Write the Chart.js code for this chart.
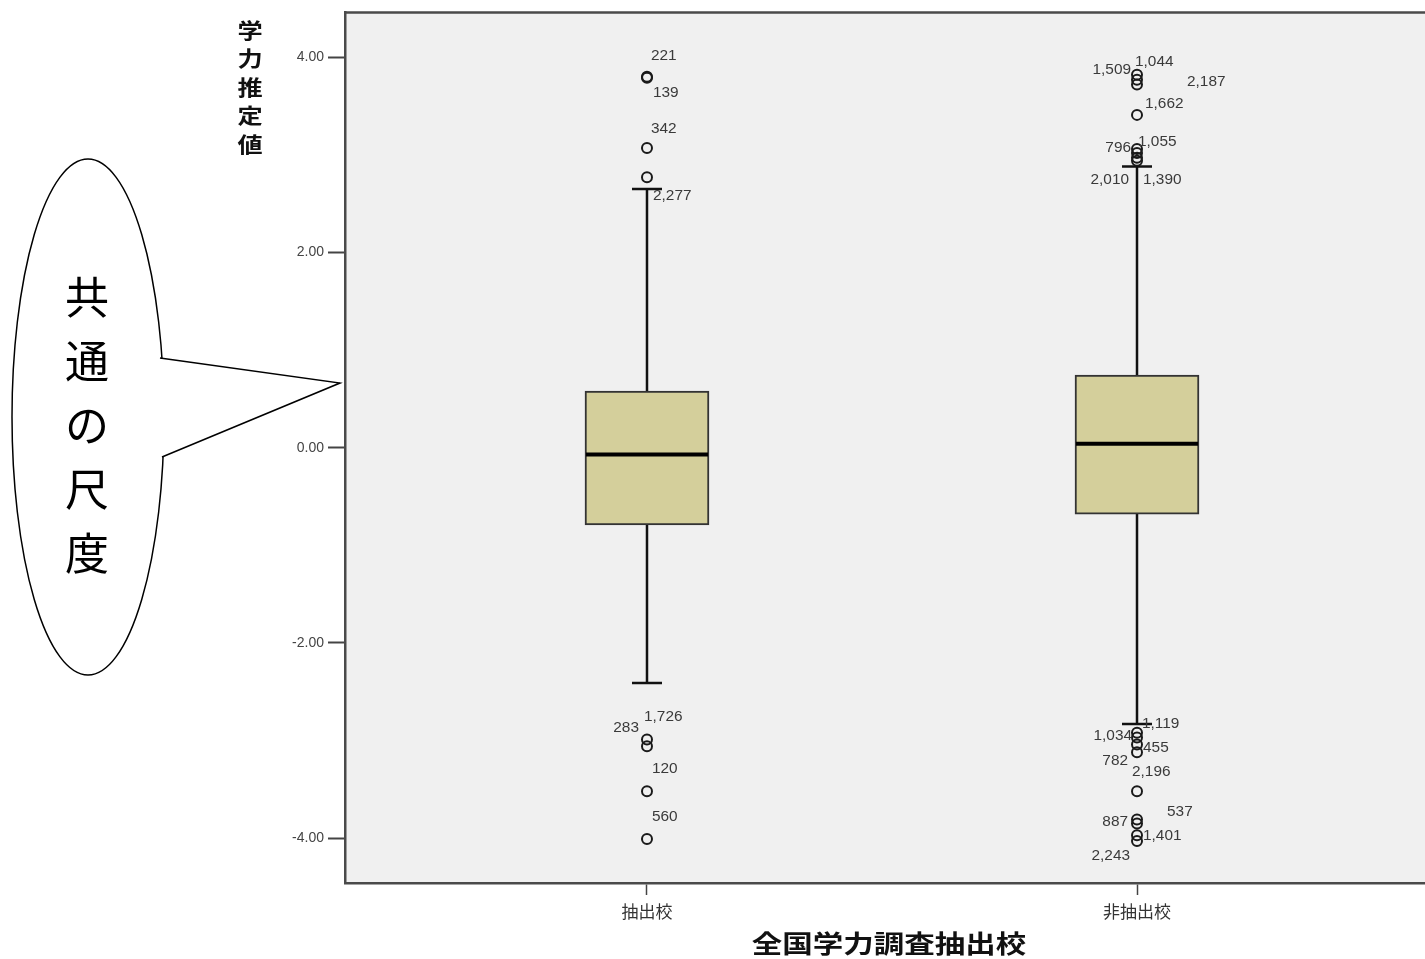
<!DOCTYPE html>
<html>
<head>
<meta charset="utf-8">
<script src="https://cdn.jsdelivr.net/npm/chart.js@4"></script>
<style>
  html, body { margin: 0; padding: 0; background: #fff; overflow: hidden; }
  #wrap { position: absolute; left: 0; top: 0; width: 1460px; height: 959px; }
</style>
</head>
<body>
<div id="wrap"><canvas id="boxChart" width="1460" height="959"></canvas></div>
<script>
// Categories and box statistics
var categories = ['抽出校', '非抽出校'];
var whiskerLow = [-2.41, -2.83];
var q1 = [-0.79, -0.68];
var median = [-0.07, 0.04];
var q3 = [0.58, 0.745];
var whiskerHigh = [2.65, 2.88];
var yTicks = [-4, -2, 0, 2, 4];

// Outliers per group: values and case labels
var outlierValues1 = [3.80, 3.79, 3.07, 2.77, -2.99, -3.06, -3.52, -4.01];
var outlierIds1 = ['221', '139', '342', '2,277', '283', '1,726', '120', '560'];
var outlierValues2 = [3.82, 3.77, 3.72, 3.41, 3.06, 3.02, 2.97, 2.94,
                      -2.92, -2.97, -3.04, -3.12, -3.52, -3.81, -3.85, -3.97, -4.03];
var outlierIds2 = ['1,509', '1,044', '2,187', '1,662', '796', '1,055', '2,010', '1,390',
                   '1,119', '1,034', '455', '782', '2,196', '887', '537', '1,401', '2,243'];

// label placement (pixels from the point: dx, dy, align)
var labelPos1 = [[4, -21, 'left'], [6, 15, 'left'], [4, -19, 'left'], [6, 19, 'left'],
                 [-8, -11, 'right'], [-3, -29, 'left'], [5, -22, 'left'], [5, -22, 'left']];
var labelPos2 = [[-6, -5, 'right'], [-2, -18, 'left'], [50, -2, 'left'], [8, -11, 'left'],
                 [-6, -1, 'right'], [1, -11, 'left'], [-8, 22, 'right'], [6, 19, 'left'],
                 [5, -9, 'left'], [-5, -1, 'right'], [6, 4, 'left'], [-9, 9, 'right'],
                 [-5, -19, 'left'], [-9, 3, 'right'], [30, -11, 'left'], [6, 1, 'left'], [-7, 15, 'right']];

var boxPx = 124;
var capHalf = 15;

function points(values, groupX) {
    var out = [];
    for (var i = 0; i < values.length; i++) out.push({ x: groupX, y: values[i] });
    return out;
}

var boxData = [];
for (var i = 0; i < categories.length; i++) {
    boxData.push({ x: i + 1, y: [q1[i], q3[i]] });
}

function stretchText(ctx, text, x, y, sx) {
    ctx.save();
    ctx.translate(x, y);
    ctx.scale(sx, 1);
    ctx.fillText(text, 0, 0);
    ctx.restore();
}

// plot background, whiskers, callout bubble
var decor = {
    id: 'decor',
    beforeDatasetsDraw: function (chart) {
        var ctx = chart.ctx, a = chart.chartArea;
        var xs = chart.scales.x, ys = chart.scales.y;
        ctx.save();
        ctx.strokeStyle = '#111';
        ctx.lineWidth = 2.5;
        for (var i = 0; i < categories.length; i++) {
            var cx = xs.getPixelForValue(i + 1);
            ctx.beginPath();
            ctx.moveTo(cx, ys.getPixelForValue(q3[i]));
            ctx.lineTo(cx, ys.getPixelForValue(whiskerHigh[i]));
            ctx.moveTo(cx, ys.getPixelForValue(q1[i]));
            ctx.lineTo(cx, ys.getPixelForValue(whiskerLow[i]));
            ctx.moveTo(cx - capHalf, ys.getPixelForValue(whiskerHigh[i]));
            ctx.lineTo(cx + capHalf, ys.getPixelForValue(whiskerHigh[i]));
            ctx.moveTo(cx - capHalf, ys.getPixelForValue(whiskerLow[i]));
            ctx.lineTo(cx + capHalf, ys.getPixelForValue(whiskerLow[i]));
            ctx.stroke();
        }
        ctx.restore();
    },
    beforeDraw: function (chart) {
        var ctx = chart.ctx, a = chart.chartArea;
        ctx.save();
        ctx.fillStyle = '#f0f0f0';
        ctx.fillRect(a.left, a.top, a.right - a.left, a.bottom - a.top);
        ctx.restore();
    },
    afterDatasetsDraw: function (chart) {
        var ctx = chart.ctx, a = chart.chartArea;
        var xs = chart.scales.x, ys = chart.scales.y;
        ctx.save();
        // median lines
        ctx.strokeStyle = '#000';
        ctx.lineWidth = 4;
        for (var i = 0; i < categories.length; i++) {
            var cx = xs.getPixelForValue(i + 1);
            var my = ys.getPixelForValue(median[i]);
            ctx.beginPath();
            ctx.moveTo(cx - boxPx / 2 + 1, my);
            ctx.lineTo(cx + boxPx / 2 - 1, my);
            ctx.stroke();
        }
        // outlier labels
        ctx.fillStyle = '#3a3a3a';
        ctx.font = '14px "Liberation Sans", Arial, sans-serif';
        ctx.textBaseline = 'middle';
        var groups = [[outlierValues1, outlierIds1, labelPos1], [outlierValues2, outlierIds2, labelPos2]];
        for (var g = 0; g < groups.length; g++) {
            var gx = xs.getPixelForValue(g + 1);
            for (var k = 0; k < groups[g][0].length; k++) {
                var py = ys.getPixelForValue(groups[g][0][k]);
                var p = groups[g][2][k];
                ctx.textAlign = p[2];
                stretchText(ctx, groups[g][1][k], gx + p[0], py + p[1], 1.1);
            }
        }
        // top frame line
        ctx.strokeStyle = '#4a4a4a';
        ctx.lineWidth = 2.5;
        ctx.beginPath();
        ctx.moveTo(a.left - 1, a.top);
        ctx.lineTo(a.right + 10, a.top);
        ctx.stroke();
        ctx.restore();
    },
    afterDraw: function (chart) {
        var ctx = chart.ctx, a = chart.chartArea;
        ctx.save();
        // axis titles
        ctx.fillStyle = '#111';
        ctx.textAlign = 'center';
        ctx.textBaseline = 'middle';
        ctx.font = 'bold 21px "Noto Sans CJK JP", sans-serif';
        var yTitle = '学力推定値';
        for (var i = 0; i < yTitle.length; i++) {
            stretchText(ctx, yTitle.charAt(i), 250, 30 + i * 28.5, 1.2);
        }
        ctx.font = 'bold 25px "Noto Sans CJK JP", sans-serif';
        stretchText(ctx, '全国学力調査抽出校', 889, 943, 1.22);

        // callout bubble
        ctx.fillStyle = '#fff';
        ctx.strokeStyle = '#000';
        ctx.lineWidth = 1.5;
        ctx.beginPath();
        ctx.ellipse(88, 417, 76, 258, 0, 0, Math.PI * 2);
        ctx.fill();
        ctx.stroke();
        ctx.beginPath();
        ctx.moveTo(160, 358);
        ctx.lineTo(340, 383);
        ctx.lineTo(162, 457);
        ctx.lineTo(140, 407);
        ctx.closePath();
        ctx.fill();
        ctx.beginPath();
        ctx.moveTo(160, 358);
        ctx.lineTo(340, 383);
        ctx.lineTo(162, 457);
        ctx.stroke();
        ctx.fillStyle = '#000';
        ctx.font = '44px "Noto Sans CJK JP", sans-serif';
        var note = '共通の尺度';
        for (var j = 0; j < note.length; j++) {
            ctx.fillText(note.charAt(j), 87, 297 + j * 64);
        }
        ctx.restore();
    }
};

var ctx = document.getElementById('boxChart').getContext('2d');
var boxChart = new Chart(ctx, {
    type: 'bar',
    data: {
        datasets: [
            {
                type: 'scatter',
                data: points(outlierValues1, 1),
                pointRadius: 5,
                pointBorderWidth: 2,
                pointBorderColor: '#1a1a1a',
                pointBackgroundColor: 'rgba(0,0,0,0)',
                order: 0
            },
            {
                type: 'scatter',
                data: points(outlierValues2, 2),
                pointRadius: 5,
                pointBorderWidth: 2,
                pointBorderColor: '#1a1a1a',
                pointBackgroundColor: 'rgba(0,0,0,0)',
                order: 0
            },
            {
                type: 'bar',
                data: boxData,
                backgroundColor: '#d4cf9b',
                borderColor: '#333',
                borderWidth: 2,
                borderSkipped: false,
                barThickness: boxPx,
                order: 1
            }
        ]
    },
    options: {
        responsive: false,
        animation: false,
        layout: { padding: { top: 10, right: 21, left: 0, bottom: 0 } },
        plugins: { legend: { display: false }, tooltip: { enabled: false } },
        scales: {
            x: {
                type: 'linear',
                offset: false,
                min: 0.3837,
                max: 2.6163,
                afterBuildTicks: function (scale) {
                    scale.ticks = [{ value: 1 }, { value: 2 }];
                },
                afterFit: function (scale) { scale.height = 76; },
                grid: { offset: false, drawOnChartArea: false, tickLength: 12, tickWidth: 1.5, tickColor: '#444' },
                border: { display: true, color: '#4a4a4a', width: 2.5 },
                ticks: {
                    padding: 6,
                    color: '#333',
                    font: { family: '"Noto Sans CJK JP", sans-serif', size: 17 },
                    callback: function (v) { return categories[v - 1]; }
                }
            },
            y: {
                type: 'linear',
                min: -4.46,
                max: 4.46,
                afterBuildTicks: function (scale) {
                    scale.ticks = yTicks.map(function (v) { return { value: v }; });
                },
                afterFit: function (scale) { scale.width = 345; },
                grid: { drawOnChartArea: false, tickLength: 17, tickWidth: 2, tickColor: '#444' },
                border: { display: true, color: '#4a4a4a', width: 2.5 },
                ticks: {
                    padding: 4,
                    color: '#444',
                    font: { family: '"Liberation Sans", Arial, sans-serif', size: 14 },
                    callback: function (v) { return v.toFixed(2); }
                }
            }
        }
    },
    plugins: [decor]
});
</script>
</body>
</html>
